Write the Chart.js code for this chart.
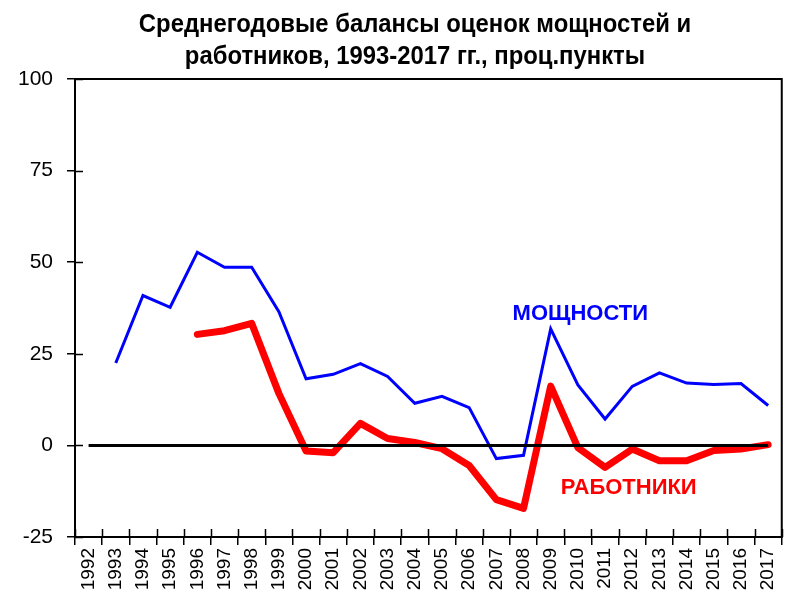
<!DOCTYPE html>
<html>
<head>
<meta charset="utf-8">
<script src="https://cdn.jsdelivr.net/npm/chart.js@4"></script>
<style>
  html, body { margin: 0; padding: 0; background: #fff; }
  #wrap { width: 794px; height: 593px; }
</style>
</head>
<body>
<div id="wrap"><canvas id="lineChart"></canvas></div>
<script>
const years = ['1992','1993','1994','1995','1996','1997','1998','1999','2000','2001','2002','2003','2004',
  '2005','2006','2007','2008','2009','2010','2011','2012','2013','2014','2015','2016','2017'];
const capacity = [null,22.5,40.9,37.7,52.7,48.6,48.6,36.5,18.2,19.4,22.3,18.8,11.5,
  13.4,10.3,-3.6,-2.7,31.8,16.5,7.2,16.1,19.8,17.0,16.6,16.9,10.9];
const workers = [null,null,null,null,30.3,31.3,33.3,14.2,-1.5,-2.0,6.0,1.9,0.8,
  -0.9,-5.5,-14.8,-17.2,16.2,-0.6,-6.0,-1.0,-4.2,-4.2,-1.4,-1.0,0.2];
const zeroLine = years.map(() => 0);
const yTicks = [-25, 0, 25, 50, 75, 100];
const titleLines = ['Среднегодовые балансы оценок мощностей и', 'работников, 1993-2017 гг., проц.пункты'];
const seriesLabels = [
  { text: 'МОЩНОСТИ', color: '#0000ff', at: 18.09, value: 35.8 },
  { text: 'РАБОТНИКИ', color: '#ff0000', at: 19.87, value: -11.6 }
];

// заголовок узким шрифтом: Arial Narrow нет, поэтому сжимаем обычный
const titlePlugin = {
  id: 'titlePlugin',
  afterDraw(chart) {
    const { ctx, width } = chart;
    ctx.save();
    ctx.font = 'bold 26.5px "Liberation Sans", Arial, sans-serif';
    ctx.fillStyle = '#000';
    ctx.textAlign = 'center';
    ctx.textBaseline = 'alphabetic';
    ctx.translate(width / 2 + 18, 0);
    ctx.scale(0.9, 1);
    ctx.fillText(titleLines[0], 0, 32);
    ctx.fillText(titleLines[1], 0, 64);
    ctx.restore();
  }
};

// рамка, внутренние засечки и подписи серий
const framePlugin = {
  id: 'framePlugin',
  afterDatasetsDraw(chart) {
    const { ctx, chartArea: a, scales: { x, y } } = chart;
    ctx.save();
    ctx.strokeStyle = '#000';
    ctx.lineWidth = 2;
    ctx.strokeRect(a.left, a.top, a.right - a.left, a.bottom - a.top);

    ctx.lineWidth = 1.5;
    ctx.beginPath();
    yTicks.forEach(v => {
      const py = Math.round(y.getPixelForValue(v)) + 0.5;
      ctx.moveTo(a.left, py);
      ctx.lineTo(a.left + 8, py);
    });
    const half = (x.getPixelForValue(1) - x.getPixelForValue(0)) / 2;
    for (let i = 0; i <= years.length; i++) {
      const px = Math.round(x.getPixelForValue(i) - half) + 0.5;
      ctx.moveTo(px, a.bottom);
      ctx.lineTo(px, a.bottom - 8);
    }
    ctx.stroke();

    ctx.font = 'bold 22px "Liberation Sans", Arial, sans-serif';
    ctx.textAlign = 'center';
    ctx.textBaseline = 'middle';
    seriesLabels.forEach(l => {
      ctx.fillStyle = l.color;
      ctx.fillText(l.text, x.getPixelForValue(l.at), y.getPixelForValue(l.value));
    });
    ctx.restore();
  }
};

new Chart(document.getElementById('lineChart'), {
  type: 'line',
  data: {
    labels: years,
    datasets: [
      { label: 'zero', data: zeroLine, borderColor: '#000', borderWidth: 3, pointRadius: 0 },
      { label: 'МОЩНОСТИ', data: capacity, borderColor: '#0000ff', borderWidth: 3, pointRadius: 0 },
      { label: 'РАБОТНИКИ', data: workers, borderColor: '#ff0000', borderWidth: 7, pointRadius: 0,
        borderJoinStyle: 'round', borderCapStyle: 'round' }
    ]
  },
  options: {
    responsive: true,
    maintainAspectRatio: false,
    animation: false,
    layout: { padding: { left: 0, right: 2, top: 79, bottom: 0 } },
    elements: { line: { tension: 0 } },
    plugins: {
      legend: { display: false },
      tooltip: { enabled: false },
      title: { display: false }
    },
    scales: {
      x: {
        offset: true,
        grid: { offset: true, drawOnChartArea: false, color: '#000', lineWidth: 1.5, tickLength: 8 },
        border: { color: '#000', width: 2 },
        ticks: { color: '#000', font: { family: '"Liberation Sans", Arial, sans-serif', size: 19 },
          minRotation: 90, maxRotation: 90, autoSkip: false, padding: 3 },
        afterFit: s => { s.height = 56; }
      },
      y: {
        min: -25, max: 100,
        grid: { drawOnChartArea: false, color: '#000', lineWidth: 1.5, tickLength: 8 },
        border: { color: '#000', width: 2 },
        ticks: { stepSize: 25, color: '#000', padding: 14,
          font: { family: '"Liberation Sans", Arial, sans-serif', size: 21 } },
        afterFit: s => { s.width = 75; }
      }
    }
  },
  plugins: [framePlugin, titlePlugin]
});
</script>
</body>
</html>
